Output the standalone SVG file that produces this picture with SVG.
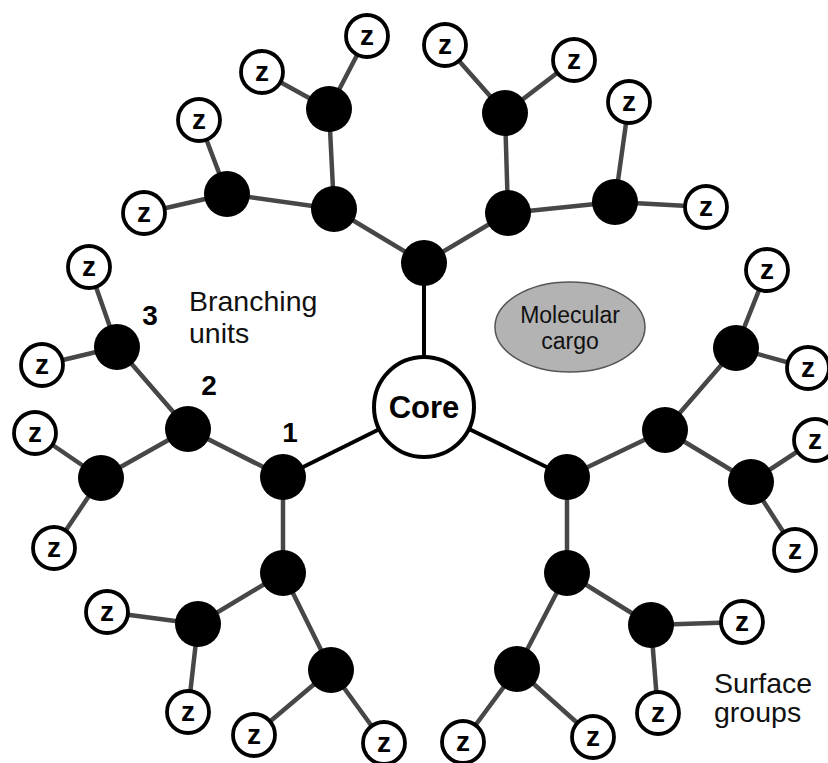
<svg xmlns="http://www.w3.org/2000/svg" width="828" height="763" viewBox="0 0 828 763">
<style>
.bg{fill:#ffffff}
.e{stroke:#474747;stroke-width:4.5;stroke-linecap:round}
.ec{stroke:#000;stroke-width:4;stroke-linecap:round}
.b{fill:#000}
.z circle{fill:#fff;stroke:#000;stroke-width:3.8}
.z text{font-family:"Liberation Sans",Arial,sans-serif;font-weight:bold;font-size:28px;text-anchor:middle;fill:#000}
.lbl{font-family:"Liberation Sans",Arial,sans-serif;fill:#111}
.num{font-family:"Liberation Sans",Arial,sans-serif;font-weight:bold;font-size:28px;text-anchor:middle;fill:#000}
</style>
<rect class="bg" x="0" y="0" width="828" height="763"/>
<g id="connectors">
<line class="ec" x1="424" y1="407" x2="424" y2="263"/>
<line class="ec" x1="424" y1="407" x2="283" y2="477"/>
<line class="ec" x1="424" y1="407" x2="567" y2="477"/>
<line class="e" x1="424" y1="263" x2="334" y2="209"/>
<line class="e" x1="424" y1="263" x2="508" y2="213"/>
<line class="e" x1="283" y1="477" x2="188" y2="429"/>
<line class="e" x1="283" y1="477" x2="283" y2="573"/>
<line class="e" x1="567" y1="477" x2="665" y2="430"/>
<line class="e" x1="567" y1="477" x2="567" y2="573"/>
<line class="e" x1="334" y1="209" x2="227" y2="194"/>
<line class="e" x1="334" y1="209" x2="329" y2="109"/>
<line class="e" x1="508" y1="213" x2="505" y2="113"/>
<line class="e" x1="508" y1="213" x2="615" y2="202"/>
<line class="e" x1="188" y1="429" x2="117" y2="347"/>
<line class="e" x1="188" y1="429" x2="101" y2="478"/>
<line class="e" x1="283" y1="573" x2="198" y2="624"/>
<line class="e" x1="283" y1="573" x2="331" y2="670"/>
<line class="e" x1="665" y1="430" x2="736" y2="348"/>
<line class="e" x1="665" y1="430" x2="751" y2="482"/>
<line class="e" x1="567" y1="573" x2="651" y2="625"/>
<line class="e" x1="567" y1="573" x2="517" y2="669"/>
<line class="e" x1="227" y1="194" x2="144" y2="213"/>
<line class="e" x1="227" y1="194" x2="199" y2="120"/>
<line class="e" x1="329" y1="109" x2="262" y2="72"/>
<line class="e" x1="329" y1="109" x2="367" y2="36"/>
<line class="e" x1="505" y1="113" x2="445" y2="45"/>
<line class="e" x1="505" y1="113" x2="574" y2="60"/>
<line class="e" x1="615" y1="202" x2="629" y2="102"/>
<line class="e" x1="615" y1="202" x2="706" y2="207"/>
<line class="e" x1="117" y1="347" x2="89" y2="267"/>
<line class="e" x1="117" y1="347" x2="42" y2="365"/>
<line class="e" x1="101" y1="478" x2="35" y2="433"/>
<line class="e" x1="101" y1="478" x2="54" y2="548"/>
<line class="e" x1="198" y1="624" x2="107" y2="612"/>
<line class="e" x1="198" y1="624" x2="188" y2="712"/>
<line class="e" x1="331" y1="670" x2="254" y2="735"/>
<line class="e" x1="331" y1="670" x2="384" y2="743"/>
<line class="e" x1="736" y1="348" x2="767" y2="270"/>
<line class="e" x1="736" y1="348" x2="808" y2="368"/>
<line class="e" x1="751" y1="482" x2="815" y2="440"/>
<line class="e" x1="751" y1="482" x2="795" y2="550"/>
<line class="e" x1="651" y1="625" x2="742" y2="622"/>
<line class="e" x1="651" y1="625" x2="658" y2="713"/>
<line class="e" x1="517" y1="669" x2="463" y2="742"/>
<line class="e" x1="517" y1="669" x2="593" y2="737"/>
</g>
<g id="cargo">
<ellipse cx="570" cy="327" rx="75" ry="45" fill="#b3b3b3" stroke="#555" stroke-width="1.5"/>
<text class="lbl" x="570" y="323" font-size="23" text-anchor="middle" fill="#333">Molecular</text>
<text class="lbl" x="570" y="349" font-size="23" text-anchor="middle" fill="#333">cargo</text>
</g>
<g id="core">
<circle cx="424" cy="407" r="50" fill="#fff" stroke="#000" stroke-width="4"/>
<text x="424" y="418" font-family="'Liberation Sans',Arial,sans-serif" font-weight="bold" font-size="31" text-anchor="middle" fill="#000">Core</text>
</g>
<g id="gen1">
<circle class="b" cx="424" cy="263" r="23"/>
<circle class="b" cx="283" cy="477" r="23"/>
<circle class="b" cx="567" cy="477" r="23"/>
</g>
<g id="gen2">
<circle class="b" cx="334" cy="209" r="23"/>
<circle class="b" cx="508" cy="213" r="23"/>
<circle class="b" cx="188" cy="429" r="23"/>
<circle class="b" cx="283" cy="573" r="23"/>
<circle class="b" cx="665" cy="430" r="23"/>
<circle class="b" cx="567" cy="573" r="23"/>
</g>
<g id="gen3">
<circle class="b" cx="227" cy="194" r="23"/>
<circle class="b" cx="329" cy="109" r="23"/>
<circle class="b" cx="505" cy="113" r="23"/>
<circle class="b" cx="615" cy="202" r="23"/>
<circle class="b" cx="117" cy="347" r="23"/>
<circle class="b" cx="101" cy="478" r="23"/>
<circle class="b" cx="198" cy="624" r="23"/>
<circle class="b" cx="331" cy="670" r="23"/>
<circle class="b" cx="736" cy="348" r="23"/>
<circle class="b" cx="751" cy="482" r="23"/>
<circle class="b" cx="651" cy="625" r="23"/>
<circle class="b" cx="517" cy="669" r="23"/>
</g>
<g id="surface" class="z">
<g id="z1"><circle cx="144" cy="213" r="21"/><text x="144" y="222">z</text></g>
<g id="z2"><circle cx="199" cy="120" r="21"/><text x="199" y="129">z</text></g>
<g id="z3"><circle cx="262" cy="72" r="21"/><text x="262" y="81">z</text></g>
<g id="z4"><circle cx="367" cy="36" r="21"/><text x="367" y="45">z</text></g>
<g id="z5"><circle cx="445" cy="45" r="21"/><text x="445" y="54">z</text></g>
<g id="z6"><circle cx="574" cy="60" r="21"/><text x="574" y="69">z</text></g>
<g id="z7"><circle cx="629" cy="102" r="21"/><text x="629" y="111">z</text></g>
<g id="z8"><circle cx="706" cy="207" r="21"/><text x="706" y="216">z</text></g>
<g id="z9"><circle cx="89" cy="267" r="21"/><text x="89" y="276">z</text></g>
<g id="z10"><circle cx="42" cy="365" r="21"/><text x="42" y="374">z</text></g>
<g id="z11"><circle cx="35" cy="433" r="21"/><text x="35" y="442">z</text></g>
<g id="z12"><circle cx="54" cy="548" r="21"/><text x="54" y="557">z</text></g>
<g id="z13"><circle cx="107" cy="612" r="21"/><text x="107" y="621">z</text></g>
<g id="z14"><circle cx="188" cy="712" r="21"/><text x="188" y="721">z</text></g>
<g id="z15"><circle cx="254" cy="735" r="21"/><text x="254" y="744">z</text></g>
<g id="z16"><circle cx="384" cy="743" r="21"/><text x="384" y="752">z</text></g>
<g id="z17"><circle cx="767" cy="270" r="21"/><text x="767" y="279">z</text></g>
<g id="z18"><circle cx="808" cy="368" r="21"/><text x="808" y="377">z</text></g>
<g id="z19"><circle cx="815" cy="440" r="21"/><text x="815" y="449">z</text></g>
<g id="z20"><circle cx="795" cy="550" r="21"/><text x="795" y="559">z</text></g>
<g id="z21"><circle cx="742" cy="622" r="21"/><text x="742" y="631">z</text></g>
<g id="z22"><circle cx="658" cy="713" r="21"/><text x="658" y="722">z</text></g>
<g id="z23"><circle cx="463" cy="742" r="21"/><text x="463" y="751">z</text></g>
<g id="z24"><circle cx="593" cy="737" r="21"/><text x="593" y="746">z</text></g>
</g>
<g id="labels">
<text class="num" x="150" y="325">3</text>
<text class="num" x="209" y="395">2</text>
<text class="num" x="290" y="442">1</text>
<text class="lbl" x="189" y="311" font-size="28.5">Branching</text>
<text class="lbl" x="189" y="343" font-size="28.5">units</text>
<text class="lbl" x="714" y="693" font-size="28.5">Surface</text>
<text class="lbl" x="714" y="722" font-size="28.5">groups</text>
</g>
</svg>
